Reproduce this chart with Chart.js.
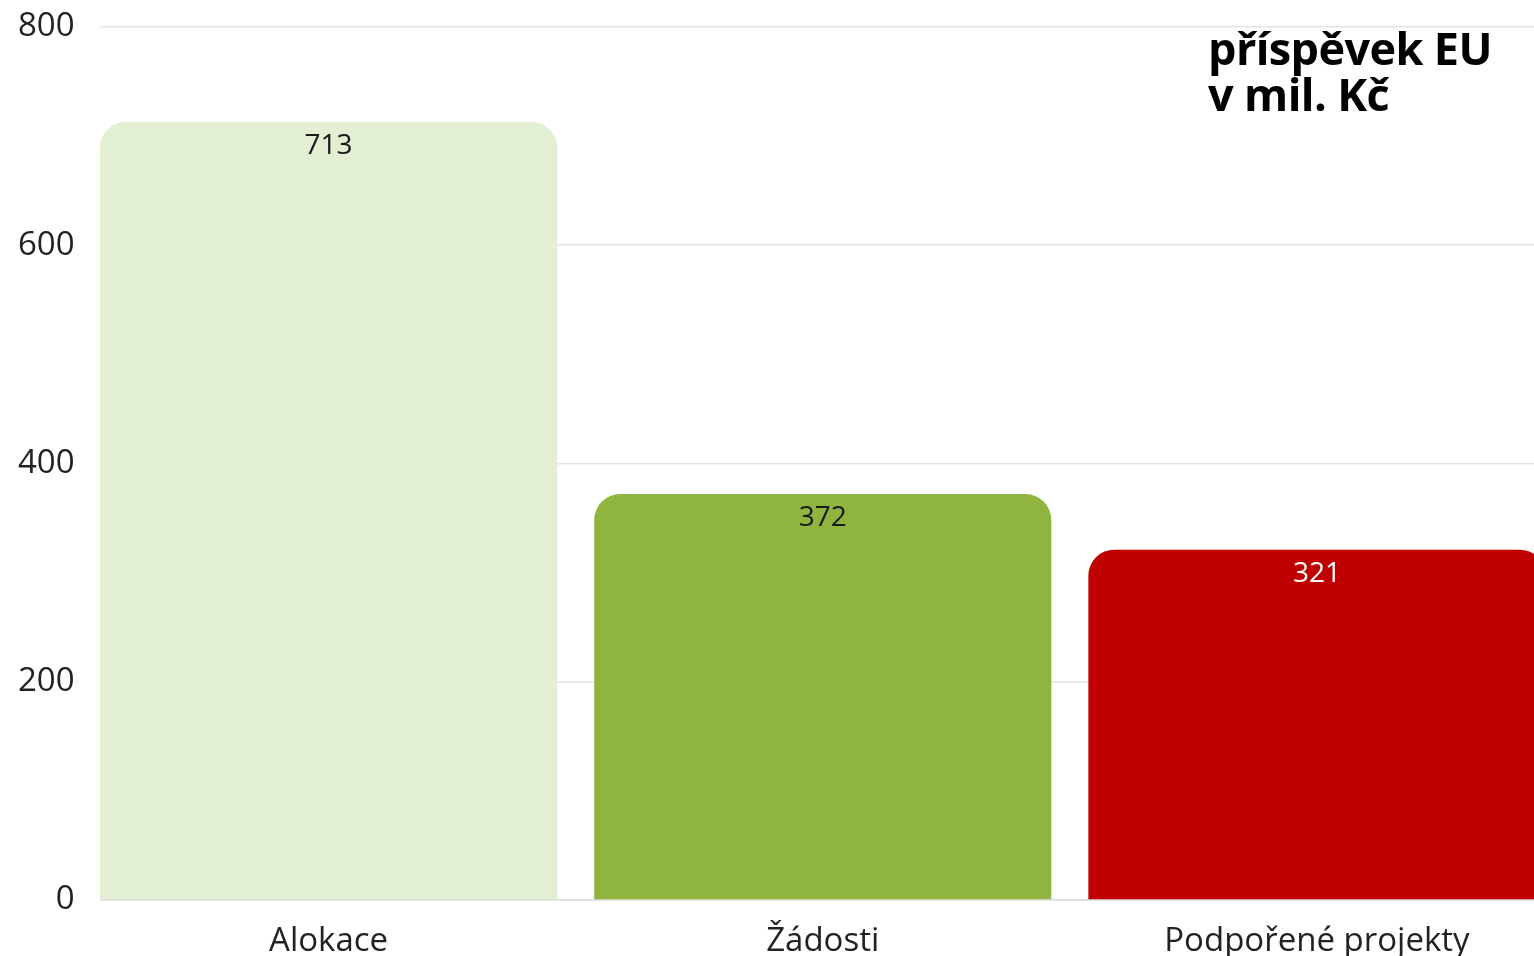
<!DOCTYPE html>
<html>
<head>
<meta charset="utf-8">
<script src="https://cdn.jsdelivr.net/npm/chart.js@4/dist/chart.umd.min.js"></script>
<style>
  html, body { margin: 0; padding: 0; background: #fff; overflow: hidden; }
  #wrap { position: relative; width: 1564px; height: 956px; }
  #title { position: absolute; left: 1208px; top: 25px; font-family: "Open Sans", sans-serif; font-weight: 700; font-size: 45px; line-height: 46px; color: #000; letter-spacing: -0.6px; white-space: nowrap; }
</style>
</head>
<body>
<div id="wrap">
  <canvas id="c"></canvas>
  <div id="title">příspěvek EU<br>v mil. Kč</div>
</div>
<script>
const categories = ["Alokace", "Žádosti", "Podpořené projekty"];
const values = [713, 372, 321];
const barColors = ["#e2efd2", "#8fb53f", "#c00000"];
const labelColors = ["#1a1a1a", "#1a1a1a", "#ffffff"];
const yTicks = [0, 200, 400, 600, 800];

const FONT = '"Open Sans", sans-serif';

const maskPlugin = {
  id: 'mask',
  beforeDatasetsDraw(chart) {
    const meta = chart.getDatasetMeta(0);
    const b = meta.data[0];
    if (!b) return;
    const left = b.x - b.width / 2;
    const ca = chart.chartArea;
    const ctx = chart.ctx;
    ctx.save();
    ctx.fillStyle = '#ffffff';
    ctx.fillRect(ca.left - 1, ca.top - 3, left - ca.left + 1, ca.bottom - ca.top + 6);
    ctx.restore();
  }
};

const valueLabels = {
  id: 'valueLabels',
  afterDatasetsDraw(chart) {
    const ctx = chart.ctx;
    const meta = chart.getDatasetMeta(0);
    ctx.save();
    ctx.font = '28px ' + FONT;
    ctx.textAlign = 'center';
    ctx.textBaseline = 'middle';
    meta.data.forEach((bar, i) => {
      ctx.fillStyle = labelColors[i];
      ctx.fillText(String(values[i]), bar.x, bar.y + 24);
    });
    ctx.restore();
  }
};

new Chart(document.getElementById('c'), {
  type: 'bar',
  data: {
    labels: categories,
    datasets: [{
      data: values,
      backgroundColor: barColors,
      borderRadius: { topLeft: 26, topRight: 26, bottomLeft: 0, bottomRight: 0 },
      borderSkipped: 'bottom',
      barPercentage: 0.925,
      categoryPercentage: 1.0
    }]
  },
  options: {
    responsive: true,
    maintainAspectRatio: false,
    animation: false,
    devicePixelRatio: 1,
    layout: { padding: { top: 10, right: 0, bottom: 0, left: 0 } },
    plugins: { legend: { display: false }, tooltip: { enabled: false } },
    scales: {
      x: {
        afterFit(scale) { scale.height = 56; },
        grid: { display: false, drawTicks: false },
        border: { display: true, color: '#dcdcdc', width: 1.5 },
        ticks: { color: '#222', font: { family: FONT, size: 33 }, padding: 22, maxRotation: 0 }
      },
      y: {
        min: 0, max: 800,
        afterFit(scale) { scale.width = 81.5; },
        afterBuildTicks(scale) { scale.ticks = yTicks.map(v => ({ value: v })); },
        grid: { color: '#e4e4e4', lineWidth: 1.5, drawTicks: false },
        border: { display: false },
        ticks: { color: '#222', font: { family: FONT, size: 33 }, padding: 7 }
      }
    }
  },
  plugins: [maskPlugin, valueLabels]
});
</script>
</body>
</html>
